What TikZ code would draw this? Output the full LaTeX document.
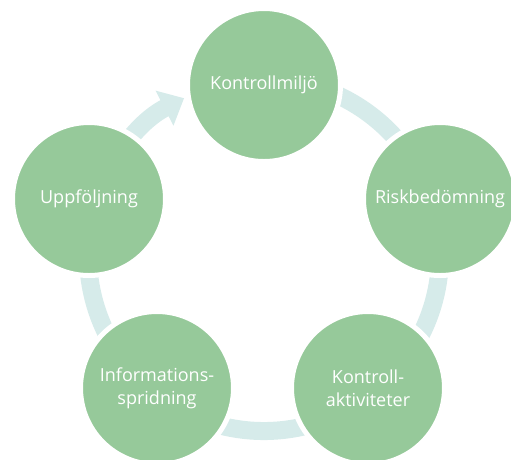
\documentclass[tikz,border=0pt]{standalone}
\usepackage{fontspec}
\setmainfont{Open Sans}
\usetikzlibrary{arrows.meta}
\definecolor{fasgreen}{RGB}{150,201,154}
\definecolor{ringblue}{RGB}{214,235,234}
\begin{document}
\begin{tikzpicture}[x=1pt,y=-1pt,
  phase/.style={circle, fill=fasgreen, draw=white, line width=5pt, minimum size=153pt, inner sep=0pt,
    text=white, align=center, font=\fontsize{18}{23}\selectfont},
  ring/.style={draw=ringblue, line width=18pt}]
\useasboundingbox (0,0) rectangle (511,459);
\coordinate (hub) at (264,255);

% band round the cycle (y points down, so angles are negated)
\path[ring] (hub) ++(-100:176) arc[start angle=-100, end angle=200, radius=176];
\path[ring,-{Triangle[length=22pt,width=38pt]}] (hub) ++(-170:176) arc[start angle=-170, end angle=-117, radius=176];

\node[phase] (miljo) at (264,85) {Kontrollmiljö};
\node[phase] (risk) at (440,199) {Riskbedömning};
\node[phase] (akt) at (368,388) {Kontroll-\\aktiviteter};
\node[phase] (info) at (157,388) {Informations-\\spridning};
\node[phase] (uppf) at (89,199) {Uppföljning};
\end{tikzpicture}
\end{document}
